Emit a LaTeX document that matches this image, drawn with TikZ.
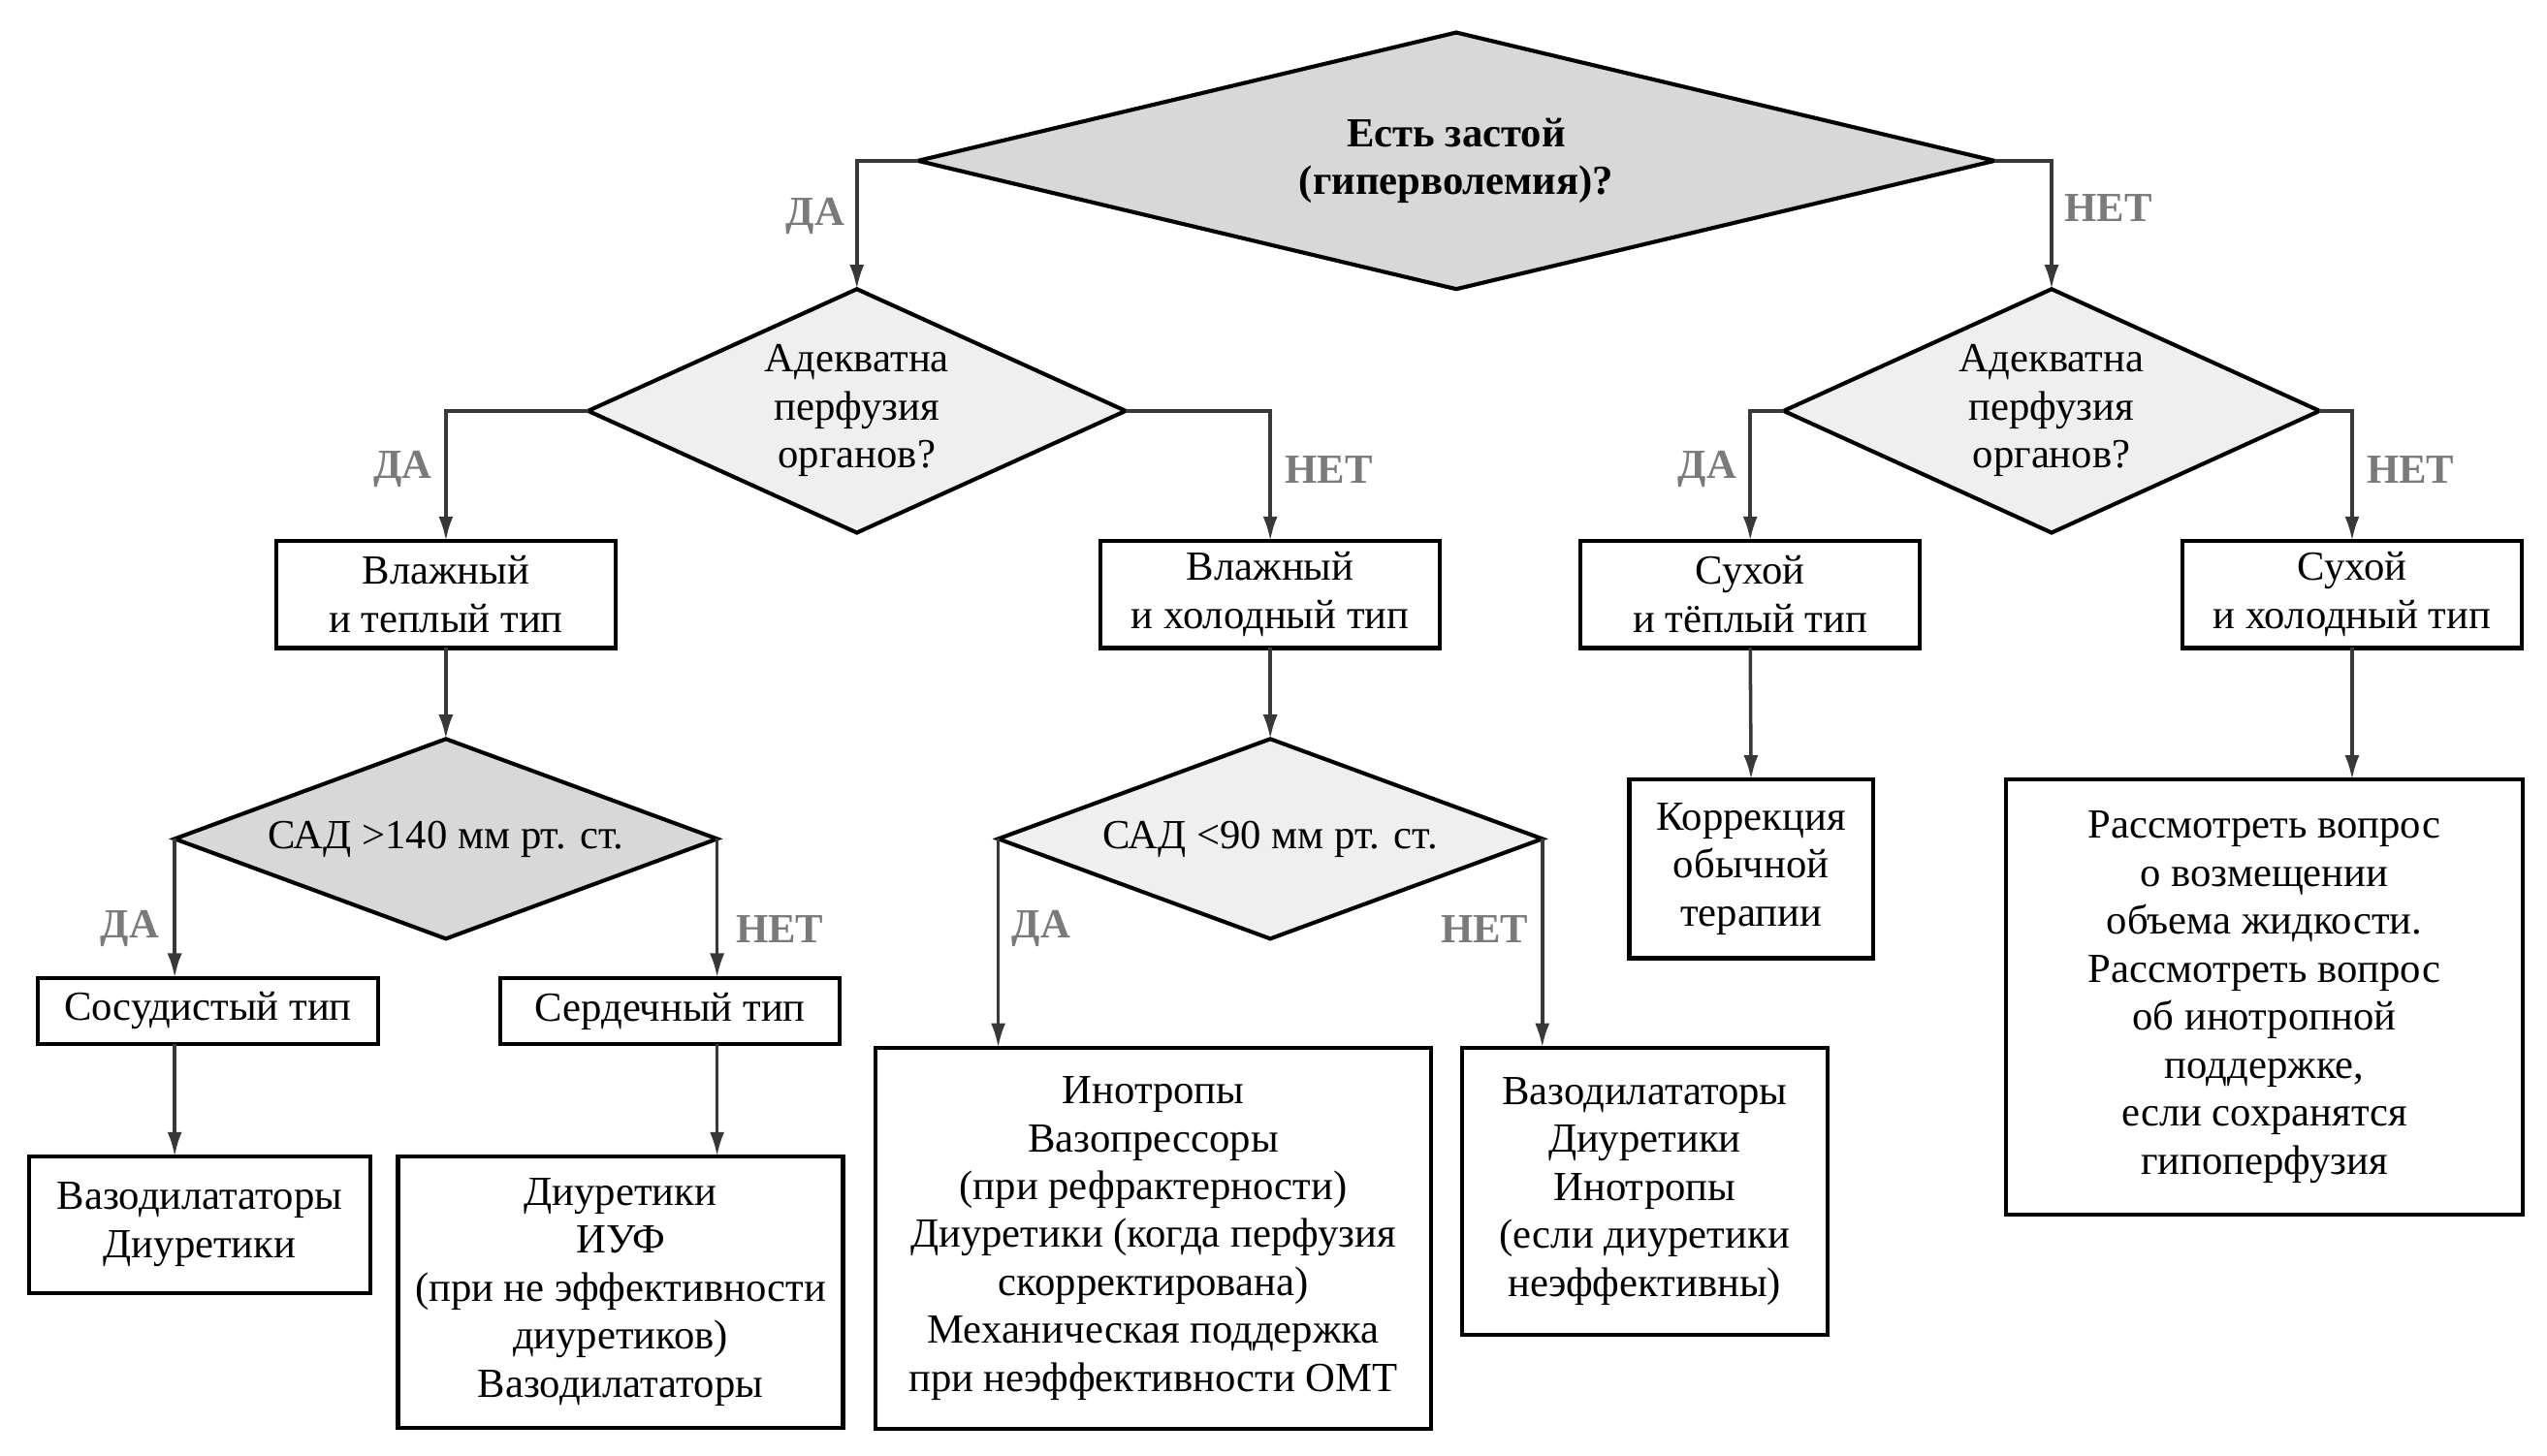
\documentclass[tikz,border=0pt]{standalone}
\usepackage{fontspec}
\setmainfont{Liberation Serif}
\usetikzlibrary{shapes.geometric,arrows.meta}

\definecolor{darkfill}{HTML}{D8D8D8}
\definecolor{lightfill}{HTML}{EFEFEF}
\definecolor{labelgray}{HTML}{7A7A7A}
\definecolor{linegray}{HTML}{383838}

\newcommand{\chartfont}{\fontsize{14.5}{16.8}\selectfont}

\tikzset{
    question/.style={diamond, draw=black, line width=1.4pt, inner sep=0pt, outer sep=0pt, align=center},
    typebox/.style={rectangle, draw=black, line width=1.4pt, inner sep=0pt, outer sep=0pt, align=center},
    answer/.style={text=labelgray, font=\chartfont\bfseries},
    arr/.style={draw=linegray, line width=1.2pt, -{Latex[length=3mm,width=1.8mm]}}
}

\begin{document}
\begin{tikzpicture}[x=0.02cm, y=-0.02cm, font=\chartfont]
        \useasboundingbox (0,0) rectangle (1568,896);

        % questions
        \node[question, fill=darkfill, aspect=4.2, minimum width=13.26cm, minimum height=3.16cm, font=\chartfont\bfseries] (q0) at (896.5, 99) {Есть застой\\(гиперволемия)?};
        \node[question, fill=lightfill, aspect=2.2, minimum width=6.62cm, minimum height=3cm] (q1) at (527.5, 253) {Адекватна\\перфузия\\органов?};
        \node[question, fill=lightfill, aspect=2.2, minimum width=6.6cm, minimum height=3cm] (q2) at (1263, 253) {Адекватна\\перфузия\\органов?};
        \node[question, fill=darkfill, aspect=2.7, minimum width=6.68cm, minimum height=2.46cm] (q3) at (274.5, 516.5) {САД >140 мм рт. ст.};
        \node[question, fill=lightfill, aspect=2.7, minimum width=6.7cm, minimum height=2.46cm] (q4) at (782, 516.5) {САД <90 мм рт. ст.};

        % types
        \node[typebox, minimum width=4.18cm, minimum height=1.32cm] (wetwarm) at (274.5, 366) {Влажный\\и теплый тип};
        \node[typebox, minimum width=4.18cm, minimum height=1.32cm] (wetcold) at (782, 366) {Влажный\\и холодный тип};
        \node[typebox, minimum width=4.18cm, minimum height=1.32cm] (drywarm) at (1077.5, 366) {Сухой\\и тёплый тип};
        \node[typebox, minimum width=4.18cm, minimum height=1.32cm] (drycold) at (1448, 366) {Сухой\\и холодный тип};

        \node[typebox, minimum width=4.2cm, minimum height=0.82cm] (vasc) at (128, 622.5) {Сосудистый тип};
        \node[typebox, minimum width=4.18cm, minimum height=0.82cm] (card) at (412.5, 622.5) {Сердечный тип};

        % treatment
        \node[typebox, minimum width=4.2cm, minimum height=1.68cm] (t1) at (123, 754) {Вазодилататоры\\Диуретики};
        \node[typebox, minimum width=5.48cm, minimum height=3.34cm] (t2) at (382, 795.5) {Диуретики\\ИУФ\\(при не эффективности\\диуретиков)\\Вазодилататоры};
        \node[typebox, minimum width=6.84cm, minimum height=4.7cm] (t3) at (710, 762.5) {Инотропы\\Вазопрессоры\\(при рефрактерности)\\Диуретики (когда перфузия\\скорректирована)\\Механическая поддержка\\при неэффективности ОМТ};
        \node[typebox, minimum width=4.5cm, minimum height=3.54cm] (t4) at (1012.5, 733.5) {Вазодилататоры\\Диуретики\\Инотропы\\(если диуретики\\неэффективны)};
        \node[typebox, minimum width=3cm, minimum height=2.2cm] (t5) at (1078, 535) {Коррекция\\обычной\\терапии};
        \node[typebox, minimum width=6.36cm, minimum height=5.36cm] (t6) at (1394, 614) {Рассмотреть вопрос\\о возмещении\\объема жидкости.\\Рассмотреть вопрос\\об инотропной\\поддержке,\\если сохранятся\\гипоперфузия};

        % connectors
        \draw[arr] (q0.west) -| (q1.north);
        \draw[arr] (q0.east) -| (q2.north);
        \draw[arr] (q1.west) -| (wetwarm.north);
        \draw[arr] (q1.east) -| (wetcold.north);
        \draw[arr] (q2.west) -| (drywarm.north);
        \draw[arr] (q2.east) -| (drycold.north);
        \draw[arr] (wetwarm.south) -- (q3.north);
        \draw[arr] (wetcold.south) -- (q4.north);
        \draw[arr] (q3.west) -- (q3.west |- vasc.north);
        \draw[arr] (q3.east) -- (q3.east |- card.north);
        \draw[arr] (q3.west |- vasc.south) -- (q3.west |- t1.north);
        \draw[arr] (q3.east |- card.south) -- (q3.east |- t2.north);
        \draw[arr] (q4.west) -- (q4.west |- t3.north);
        \draw[arr] (q4.east) -- (q4.east |- t4.north);
        \draw[arr] (drywarm.south) -- (t5.north);
        \draw[arr] (drycold.south) -- (drycold.south |- t6.north);

        % yes / no
        \node[answer] (yes0) at (502, 133) {ДА};
        \node[answer] (no0) at (1298, 128) {НЕТ};
        \node[answer] (yes1) at (248, 289) {ДА};
        \node[answer] (no1) at (818, 289) {НЕТ};
        \node[answer] (yes2) at (1051, 289) {ДА};
        \node[answer] (no2) at (1484, 289) {НЕТ};
        \node[answer] (yes3) at (80, 572) {ДА};
        \node[answer] (no3) at (480, 572) {НЕТ};
        \node[answer] (yes4) at (641, 572) {ДА};
        \node[answer] (no4) at (914, 572) {НЕТ};
    \end{tikzpicture}
\end{document}
